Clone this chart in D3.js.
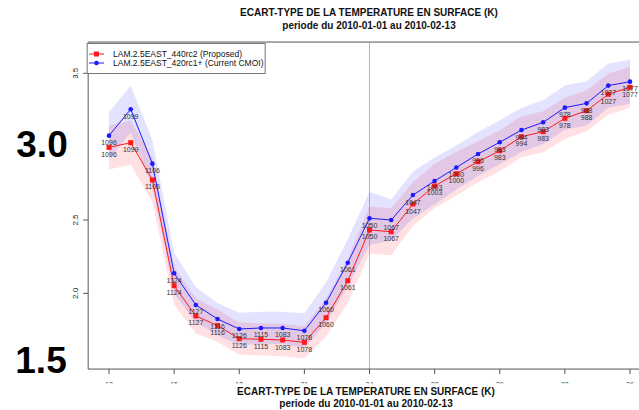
<!DOCTYPE html>
<html>
<head>
<meta charset="utf-8">
<script src="https://cdn.jsdelivr.net/npm/d3@7"></script>
<style>
  html, body { margin: 0; padding: 0; background: #fff; }
  svg { display: block; font-family: "Liberation Sans", Arial, Helvetica, sans-serif; }
</style>
</head>
<body>
<svg id="chart" width="639" height="410"></svg>
<script>
// Forecast lead time (hours)
const hours = [12, 13, 14, 15, 16, 17, 18, 19, 20, 21, 22, 23, 24,
               25, 26, 27, 28, 29, 30, 31, 32, 33, 34, 35, 36];
const tickHours = [12, 15, 18, 21, 24, 27, 30, 33, 36];
const yTicks = [3.5, 2.5, 2.0];
const bigYLabels = ["3.0", "1.5"];

// Number of observations at each lead time
const counts = [1096, 1099, 1106, 1124, 1127, 1116, 1126, 1115, 1083, 1078, 1060, 1061, 1050,
                1067, 1047, 1003, 1000, 996, 983, 994, 983, 978, 988, 1027, 1077];

// LAM.2.5EAST_440rc2 (Proposed)
const redName = "LAM.2.5EAST_440rc2 (Proposed)";
const redValues = [2.995, 3.027, 2.773, 2.052, 1.846, 1.780, 1.691, 1.687, 1.682, 1.666, 1.834, 2.086, 2.432,
                   2.420, 2.609, 2.732, 2.815, 2.897, 2.972, 3.068, 3.102, 3.193, 3.245, 3.357, 3.405];
const redSpread = [0.15, 0.15, 0.15, 0.13, 0.12, 0.11, 0.11, 0.11, 0.11, 0.11, 0.13, 0.15, 0.16,
                   0.16, 0.15, 0.15, 0.15, 0.14, 0.14, 0.14, 0.14, 0.14, 0.14, 0.14, 0.14];

// LAM.2.5EAST_420rc1+ (Current CMOI)
const blueName = "LAM.2.5EAST_420rc1+ (Current CMOI)";
const blueValues = [3.075, 3.255, 2.884, 2.137, 1.921, 1.825, 1.757, 1.764, 1.764, 1.745, 1.936, 2.209, 2.512,
                    2.500, 2.670, 2.766, 2.858, 2.950, 3.030, 3.113, 3.166, 3.266, 3.295, 3.416, 3.443];
const blueSpread = [0.16, 0.16, 0.16, 0.14, 0.12, 0.11, 0.11, 0.11, 0.11, 0.12, 0.14, 0.16, 0.18,
                    0.14, 0.16, 0.16, 0.15, 0.15, 0.15, 0.15, 0.15, 0.15, 0.15, 0.15, 0.15];

const titleLine1 = "ECART-TYPE DE LA TEMPERATURE EN SURFACE (K)";
const titleLine2 = "periode du 2010-01-01 au 2010-02-13";

const svg = d3.select("#chart");

const x = d3.scaleLinear().domain([12, 36]).range([109, 630]);
const y = d3.scaleLinear().domain([1.5, 3.5]).range([366.7, 73.3]);

const xLeft = x(11.04), xRight = x(36.96);
const yTop = y(3.713), yBottom = y(1.484);

// Clip for the x tick labels, which sit under the bottom caption
svg.append("defs").append("clipPath").attr("id", "tick-clip")
  .append("rect").attr("x", 0).attr("y", 370).attr("width", 639).attr("height", 13.5);

// Reference line at 24 h
svg.append("line")
  .attr("x1", x(24)).attr("x2", x(24))
  .attr("y1", yTop).attr("y2", yBottom)
  .attr("stroke", "#b8b8b8").attr("stroke-width", 1);

const series = [
  { name: redName, values: redValues, spread: redSpread, color: "#ff1a1a", band: "rgba(255,40,60,0.14)", shape: "square" },
  { name: blueName, values: blueValues, spread: blueSpread, color: "#1a1aff", band: "rgba(40,40,255,0.13)", shape: "circle" }
];

// Spread bands
series.forEach(s => {
  const area = d3.area()
    .x((d, i) => x(hours[i]))
    .y0((d, i) => y(s.values[i] - s.spread[i]))
    .y1((d, i) => y(s.values[i] + s.spread[i]));
  svg.append("path").datum(s.values)
    .attr("d", area)
    .attr("fill", s.band);
});

// Lines, markers and counts
series.forEach(s => {
  const line = d3.line().x((d, i) => x(hours[i])).y(d => y(d));
  svg.append("path").datum(s.values)
    .attr("d", line)
    .attr("fill", "none")
    .attr("stroke", s.color)
    .attr("stroke-width", 1);

  const g = svg.append("g");
  if (s.shape === "square") {
    g.selectAll("rect").data(s.values).join("rect")
      .attr("x", (d, i) => x(hours[i]) - 2.5)
      .attr("y", d => y(d) - 2.5)
      .attr("width", 5).attr("height", 5)
      .attr("fill", s.color);
  } else {
    g.selectAll("circle").data(s.values).join("circle")
      .attr("cx", (d, i) => x(hours[i]))
      .attr("cy", d => y(d))
      .attr("r", 2.3)
      .attr("fill", s.color);
  }
  g.selectAll("text").data(s.values).join("text")
    .attr("x", (d, i) => x(hours[i]))
    .attr("y", d => y(d) + 9.5)
    .attr("text-anchor", "middle")
    .attr("font-size", 7)
    .attr("fill", "#333")
    .text((d, i) => counts[i]);
});

// Frame
svg.append("path")
  .attr("d", `M${xRight},${yTop}H${xLeft}V${yBottom}H${xRight}`)
  .attr("fill", "none").attr("stroke", "#555").attr("stroke-width", 1);

// Y axis ticks and labels
yTicks.forEach(v => {
  svg.append("line")
    .attr("x1", xLeft - 5).attr("x2", xLeft)
    .attr("y1", y(v)).attr("y2", y(v))
    .attr("stroke", "#555");
  svg.append("text")
    .attr("transform", `translate(78,${y(v)}) rotate(-90)`)
    .attr("text-anchor", "middle")
    .attr("font-size", 8)
    .attr("fill", "#222")
    .text(d3.format(".1f")(v));
});

// X axis ticks and labels (labels mostly hidden under the caption)
const xTickLabels = svg.append("g").attr("clip-path", "url(#tick-clip)");
tickHours.forEach(h => {
  svg.append("line")
    .attr("x1", x(h)).attr("x2", x(h))
    .attr("y1", yBottom).attr("y2", yBottom + 5)
    .attr("stroke", "#555");
  xTickLabels.append("text")
    .attr("x", x(h)).attr("y", 387)
    .attr("text-anchor", "middle")
    .attr("font-size", 7)
    .attr("fill", "#444")
    .text(h);
});

// Large y labels
svg.append("text")
  .attr("x", 42).attr("y", 157)
  .attr("text-anchor", "middle")
  .attr("font-size", 37).attr("font-weight", "bold")
  .attr("fill", "#000")
  .text(bigYLabels[0]);
svg.append("text")
  .attr("x", 41).attr("y", 373)
  .attr("text-anchor", "middle")
  .attr("font-size", 37).attr("font-weight", "bold")
  .attr("fill", "#000")
  .text(bigYLabels[1]);

// Titles (top and bottom)
[[369, 15.5, 29], [366, 395, 407]].forEach(([cx, y1, y2]) => {
  svg.append("text")
    .attr("x", cx).attr("y", y1)
    .attr("text-anchor", "middle")
    .attr("font-size", 10).attr("font-weight", "bold")
    .attr("fill", "#111")
    .text(titleLine1);
  svg.append("text")
    .attr("x", cx).attr("y", y2)
    .attr("text-anchor", "middle")
    .attr("font-size", 10).attr("font-weight", "bold")
    .attr("fill", "#111")
    .text(titleLine2);
});

// Legend
const legend = svg.append("g");
legend.append("rect")
  .attr("x", xLeft - 1).attr("y", 43.5)
  .attr("width", 178).attr("height", 30)
  .attr("fill", "#fff").attr("stroke", "#777").attr("stroke-width", 1);
series.forEach((s, i) => {
  const ly = 54 + i * 9;
  legend.append("line")
    .attr("x1", 89).attr("x2", 104)
    .attr("y1", ly).attr("y2", ly)
    .attr("stroke", s.color);
  if (s.shape === "square") {
    legend.append("rect")
      .attr("x", 96.5 - 2.5).attr("y", ly - 2.5)
      .attr("width", 5).attr("height", 5)
      .attr("fill", s.color);
  } else {
    legend.append("circle")
      .attr("cx", 96.5).attr("cy", ly).attr("r", 2.3)
      .attr("fill", s.color);
  }
  legend.append("text")
    .attr("x", 113).attr("y", ly + 3)
    .attr("font-size", 8.5)
    .attr("fill", "#111")
    .text(s.name);
});
</script>
</body>
</html>
